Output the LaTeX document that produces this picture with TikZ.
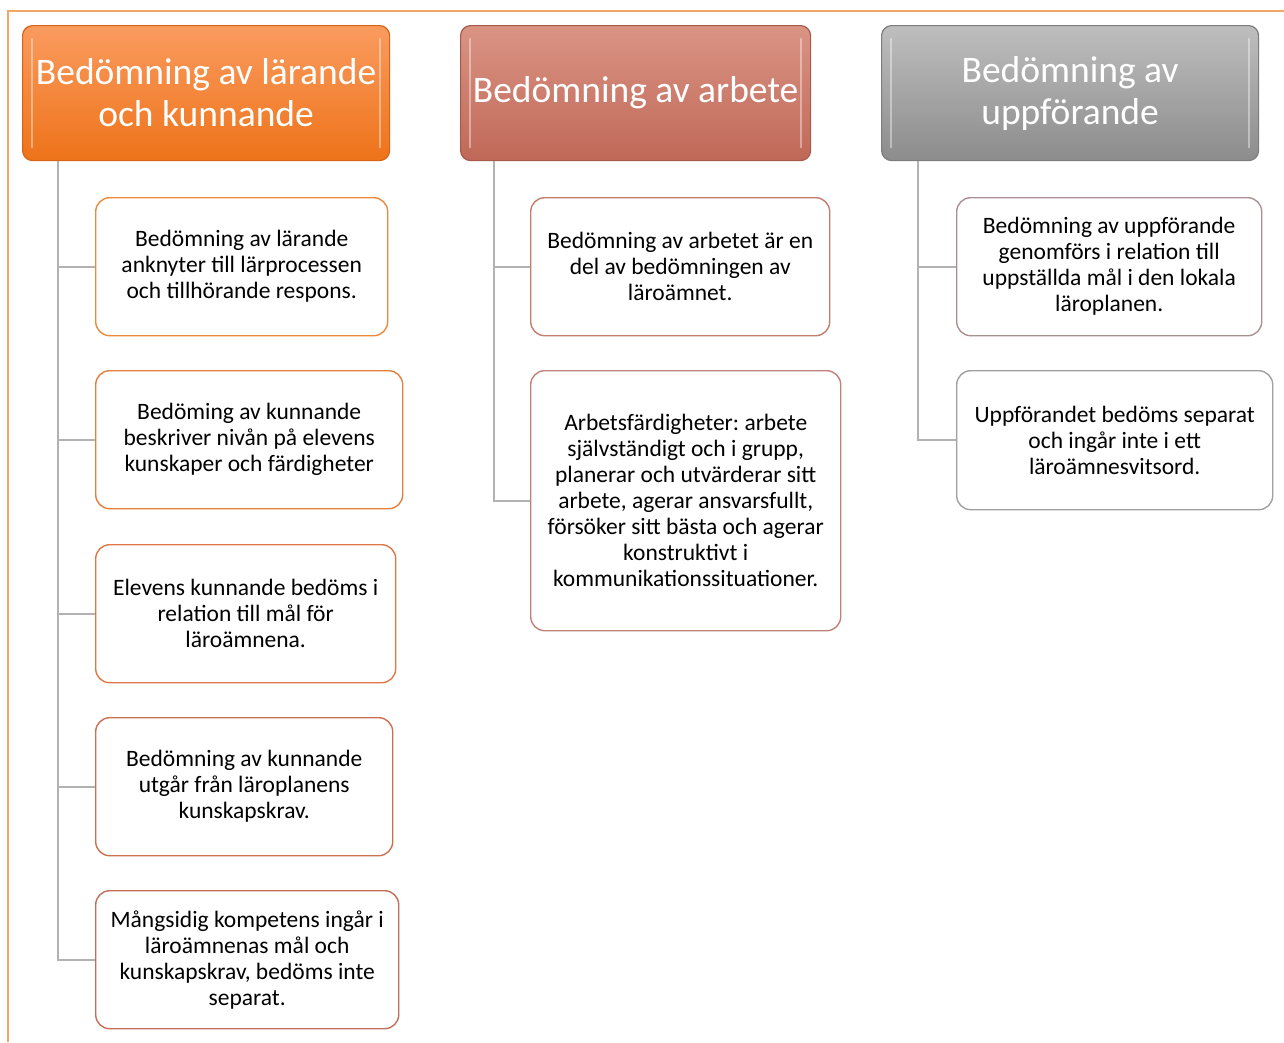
\documentclass[tikz,border=0pt]{standalone}
\usepackage{fontspec}
\setmainfont{Carlito}
\frenchspacing

\definecolor{frameline}{RGB}{244,166,100}
\definecolor{trunkgray}{RGB}{178,178,178}
\definecolor{cLa}{RGB}{237,137,58}
\definecolor{cLb}{RGB}{230,127,62}
\definecolor{cLc}{RGB}{222,120,70}
\definecolor{cLd}{RGB}{205,112,80}
\definecolor{cLe}{RGB}{195,110,88}
\definecolor{cMa}{RGB}{195,125,110}
\definecolor{cMb}{RGB}{190,130,120}
\definecolor{cRa}{RGB}{170,145,145}
\definecolor{cRb}{RGB}{160,160,160}

\tikzset{
  head/.style={rounded corners=10pt, line width=1.2pt, inner sep=0pt,
    anchor=north west, minimum height=135pt, align=center, text=white,
    font=\fontsize{37.5}{42}\selectfont},
  headorange/.style={head, draw={rgb,255:red,215;green,100;blue,20},
    top color={rgb,255:red,250;green,155;blue,95},
    bottom color={rgb,255:red,238;green,115;blue,25}},
  headsalmon/.style={head, draw={rgb,255:red,165;green,90;blue,75},
    top color={rgb,255:red,218;green,148;blue,132},
    bottom color={rgb,255:red,192;green,104;blue,88}},
  headgray/.style={head, draw={rgb,255:red,125;green,125;blue,125},
    top color={rgb,255:red,190;green,190;blue,190},
    bottom color={rgb,255:red,140;green,140;blue,140}},
  gloss/.style={white, opacity=0.4, line width=2.5pt, line cap=round},
  leaf/.style={draw=#1, fill=white, rounded corners=14pt, line width=1.4pt,
    inner sep=0pt, anchor=north west, minimum height=138pt, align=center,
    font=\fontsize{23.5}{26}\selectfont},
  branch/.style={draw=trunkgray, line width=1.8pt}
}

\begin{document}
\begin{tikzpicture}[x=1pt,y=-1pt]
\useasboundingbox (0,0) rectangle (1284,1042);
\fill[white] (0,0) rectangle (1284,1042);
\draw[frameline, line width=1.8pt] (8,1042) -- (8,11) -- (1284,11);

% headers
\node[headorange, minimum width=367pt] (hLearn) at (22,25) {Bedömning av lärande\\och kunnande};
\node[headsalmon, minimum width=350pt] (hWork) at (460,25) {Bedömning av arbete};
\node[headgray, minimum width=377pt] (hConduct) at (881,25) {Bedömning av\\uppförande};
\foreach \h in {hLearn,hWork,hConduct} {
  \draw[gloss] ([xshift=10pt,yshift=-14pt]\h.north west) -- ([xshift=10pt,yshift=14pt]\h.south west);
  \draw[gloss] ([xshift=-10pt,yshift=-14pt]\h.north east) -- ([xshift=-10pt,yshift=14pt]\h.south east);
}

% left column
\node[leaf=cLa, minimum width=292pt] (lA) at (95,197) {Bedömning av lärande\\anknyter till lärprocessen\\och tillhörande respons.};
\node[leaf=cLb, minimum width=307pt] (lB) at (95,370) {Bedöming av kunnande\\beskriver nivån på elevens\\kunskaper och färdigheter};
\node[leaf=cLc, minimum width=300pt] (lC) at (95,544) {Elevens kunnande bedöms i\\relation till mål för\\läroämnena.};
\node[leaf=cLd, minimum width=297pt] (lD) at (95,717) {Bedömning av kunnande\\utgår från läroplanens\\kunskapskrav.};
\node[leaf=cLe, minimum width=303pt] (lE) at (95,890) {Mångsidig kompetens ingår i\\läroämnenas mål och\\kunskapskrav, bedöms inte\\separat.};

% middle column
\node[leaf=cMa, minimum width=299pt] (mA) at (530,197) {Bedömning av arbetet är en\\del av bedömningen av\\läroämnet.};
\node[leaf=cMb, minimum width=310pt, minimum height=260pt] (mB) at (530,370) {Arbetsfärdigheter: arbete\\självständigt och i grupp,\\planerar och utvärderar sitt\\arbete, agerar ansvarsfullt,\\försöker sitt bästa och agerar\\konstruktivt i\\kommunikationssituationer.};

% right column
\node[leaf=cRa, minimum width=305pt] (rA) at (956,197) {Bedömning av uppförande\\genomförs i relation till\\uppställda mål i den lokala\\läroplanen.};
\node[leaf=cRb, minimum width=316pt, minimum height=139pt] (rB) at (956,370) {Uppförandet bedöms separat\\och ingår inte i ett\\läroämnesvitsord.};

% connectors
\foreach \n in {lA,lB,lC,lD,lE}
  \draw[branch] ([xshift=36pt]hLearn.south west) |- (\n.west);
\foreach \n in {mA,mB}
  \draw[branch] ([xshift=34pt]hWork.south west) |- (\n.west);
\foreach \n in {rA,rB}
  \draw[branch] ([xshift=37pt]hConduct.south west) |- (\n.west);
\end{tikzpicture}
\end{document}
